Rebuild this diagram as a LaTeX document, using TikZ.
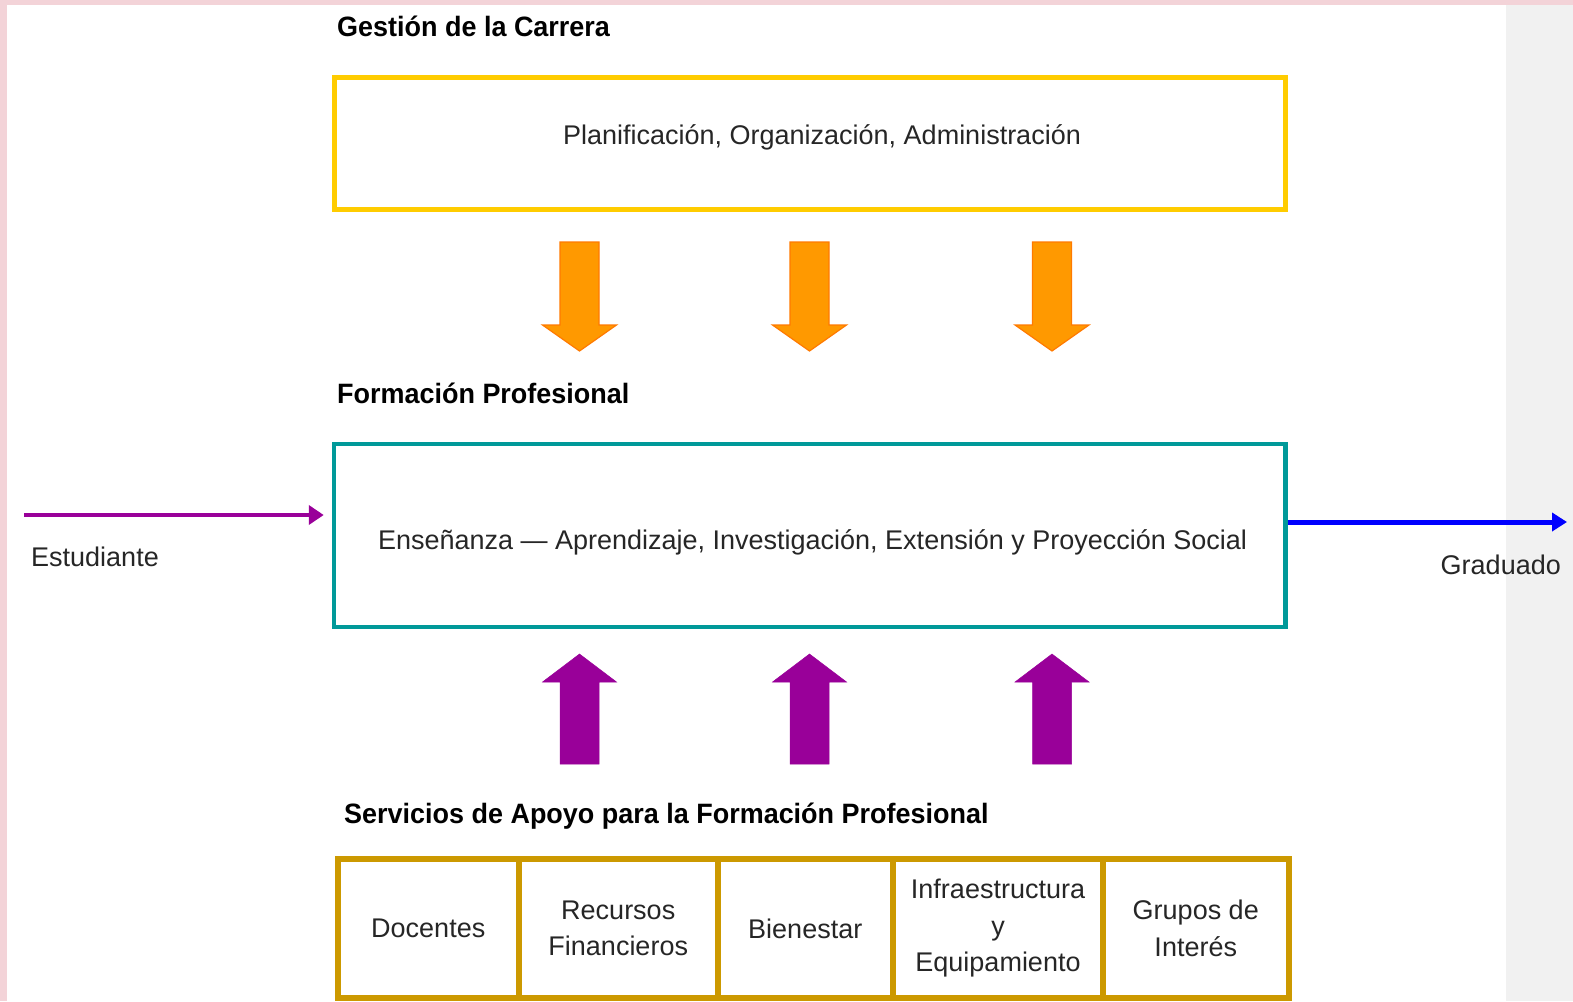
\documentclass[tikz,border=0pt]{standalone}
\usepackage{fontspec}
\setmainfont{Liberation Sans}
\newfontfamily\titlefont[FakeStretch=0.963]{Liberation Sans Bold}
\usetikzlibrary{arrows.meta}
\definecolor{cyellow}{HTML}{FFCC00}
\definecolor{corange}{HTML}{FF9900}
\definecolor{corangeline}{HTML}{FF7A00}
\definecolor{cpurple}{HTML}{990099}
\definecolor{cteal}{HTML}{009999}
\definecolor{cgold}{HTML}{CC9900}
\definecolor{cblue}{HTML}{0000FF}
\definecolor{pinkbg}{HTML}{F3D3D8}
\definecolor{graybg}{HTML}{F1F1F1}
\tikzset{
  body/.style={font=\fontsize{27}{36.5}\selectfont, inner sep=0pt, text=black!85},
  titlestyle/.style={font=\titlefont\fontsize{28}{34}\selectfont, inner sep=0pt, anchor=base west},
  cell/.style={draw=cgold, line width=6pt, body, align=center, anchor=north west},
  downblock/.style={fill=corange, draw=corangeline, line width=1.2pt},
  upblock/.style={fill=cpurple, draw=cpurple, line width=0.5pt},
}
\newcommand\blockdown[1]{%
  \path[downblock] (#1-19.5,242) -- (#1+19.5,242) -- (#1+19.5,325) -- (#1+37,325) -- (#1,351) -- (#1-37,325) -- (#1-19.5,325) -- cycle;}
\newcommand\blockup[1]{%
  \path[upblock] (#1-19.5,764) -- (#1+19.5,764) -- (#1+19.5,682) -- (#1+37,682) -- (#1,654) -- (#1-37,682) -- (#1-19.5,682) -- cycle;}
\begin{document}
\begin{tikzpicture}[x=1pt,y=-1pt]
\useasboundingbox (0,0) rectangle (1573,1001);
\fill[pinkbg] (0,0) rectangle (1573,1001);
\fill[white] (7,5) rectangle (1506,1001);
\fill[graybg] (1506,5) rectangle (1573,1001);

% Gestion
\node[titlestyle] (tgest) at (337,36) {Gestión de la Carrera};
\node[draw=cyellow, line width=5pt, minimum width=951.5pt, minimum height=132pt, inner sep=0pt] (gest) at (809.75,143) {};
\node[body] (gesttext) at (822,137.5) {Planificación, Organización, Administración};

% down arrows
\blockdown{579.5}
\blockdown{809.5}
\blockdown{1052}

% Formacion
\node[titlestyle] (tform) at (337,403) {Formación Profesional};
\node[draw=cteal, line width=4.5pt, minimum width=951.5pt, minimum height=183pt, inner sep=0pt] (form) at (809.75,535.5) {};
\node[body] (formtext) at (812.5,542) {Enseñanza — Aprendizaje, Investigación, Extensión y Proyección Social};

% Estudiante / Graduado
\coordinate (estin) at (24,515);
\draw[cpurple, line width=4.5pt, -{Triangle[length=15pt,width=19pt]}, shorten >=8pt] (estin) -- (estin -| form.west);
\node[body, anchor=base west] (est) at (31,566) {Estudiante};
\coordinate (gradout) at (1567,522);
\draw[cblue, line width=5pt, -{Triangle[length=15pt,width=18pt]}] (gradout -| form.east) -- (gradout);
\node[body, anchor=base east] (grad) at (1561,574) {Graduado};

% up arrows
\blockup{579.5}
\blockup{809.5}
\blockup{1052}

% Servicios
\node[titlestyle] (tserv) at (344,823) {Servicios de Apoyo para la Formación Profesional};
\node[cell, minimum width=181.5pt, minimum height=139pt] (c1) at (334.5,856) {Docentes};
\node[cell, minimum width=198.5pt, minimum height=139pt] (c2) at (516,856) {Recursos\\Financieros};
\node[cell, minimum width=175.5pt, minimum height=139pt] (c3) at (714.5,856) {Bienestar};
\node[cell, minimum width=210pt, minimum height=139pt] (c4) at (890,856) {Infraestructura\\y\\Equipamiento};
\node[cell, minimum width=185.5pt, minimum height=139pt] (c5) at (1100,856) {Grupos de\\Interés};
\end{tikzpicture}
\end{document}
